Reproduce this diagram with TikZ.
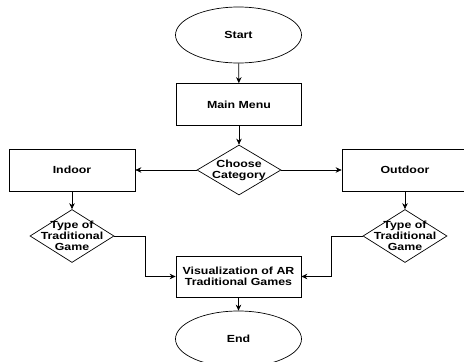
\documentclass[tikz,border=0pt]{standalone}
\usepackage{fontspec}
\usetikzlibrary{shapes.geometric,arrows.meta}
\newfontfamily\chartfont[FakeStretch=1.2]{Liberation Sans}

\tikzset{
  terminal/.style={ellipse,draw,minimum width=126pt,minimum height=56pt,inner sep=0pt},
  process/.style={rectangle,draw,minimum width=125pt,minimum height=42pt,align=center},
  decision/.style={diamond,draw,minimum width=84pt,minimum height=53pt,inner sep=0pt},
  flow/.style={-{Stealth[length=6pt,width=5.5pt]}},
}

\begin{document}
\begin{tikzpicture}[x=1pt,y=-1pt,line width=0.7pt,
    font=\chartfont\bfseries\fontsize{10.3}{11.2}\selectfont]
    \useasboundingbox (0,0) rectangle (464,362);
    \begin{scope}
    \clip (0,0) rectangle (464,362);
    \node[terminal] (start) at (238.5,35) {Start};
    \node[process] (menu) at (239,104.5) {Main Menu};
    \node[decision,minimum height=50pt,
          label={[align=center]center:Choose\\Category}] (choose) at (239,170) {};
    \node[process,minimum width=126pt] (indoor) at (72,170) {Indoor};
    \node[process,minimum width=126pt] (outdoor) at (405,170) {Outdoor};
    \node[decision,
          label={[align=center]center:Type of\\Traditional\\Game}] (typeL) at (72,236) {};
    \node[decision,
          label={[align=center]center:Type of\\Traditional\\Game}] (typeR) at (405,236) {};
    \node[process,minimum height=41pt] (visual) at (238.5,276.5) {Visualization of AR\\Traditional Games};
    \node[terminal] (end) at (238.5,339) {End};

    \draw[flow] (start) -- (menu);
    \draw[flow] (menu) -- (choose);
    \draw[flow] (choose) -- (indoor);
    \draw[flow] (choose) -- (outdoor);
    \draw[flow] (indoor) -- (typeL);
    \draw[flow] (outdoor) -- (typeR);
    \draw[flow] (typeL.east) -- ++(31,0) |- (visual.west);
    \draw[flow] (typeR.west) -- ++(-31,0) |- (visual.east);
    \draw[flow] (visual) -- (end);
    \end{scope}
\end{tikzpicture}
\end{document}
